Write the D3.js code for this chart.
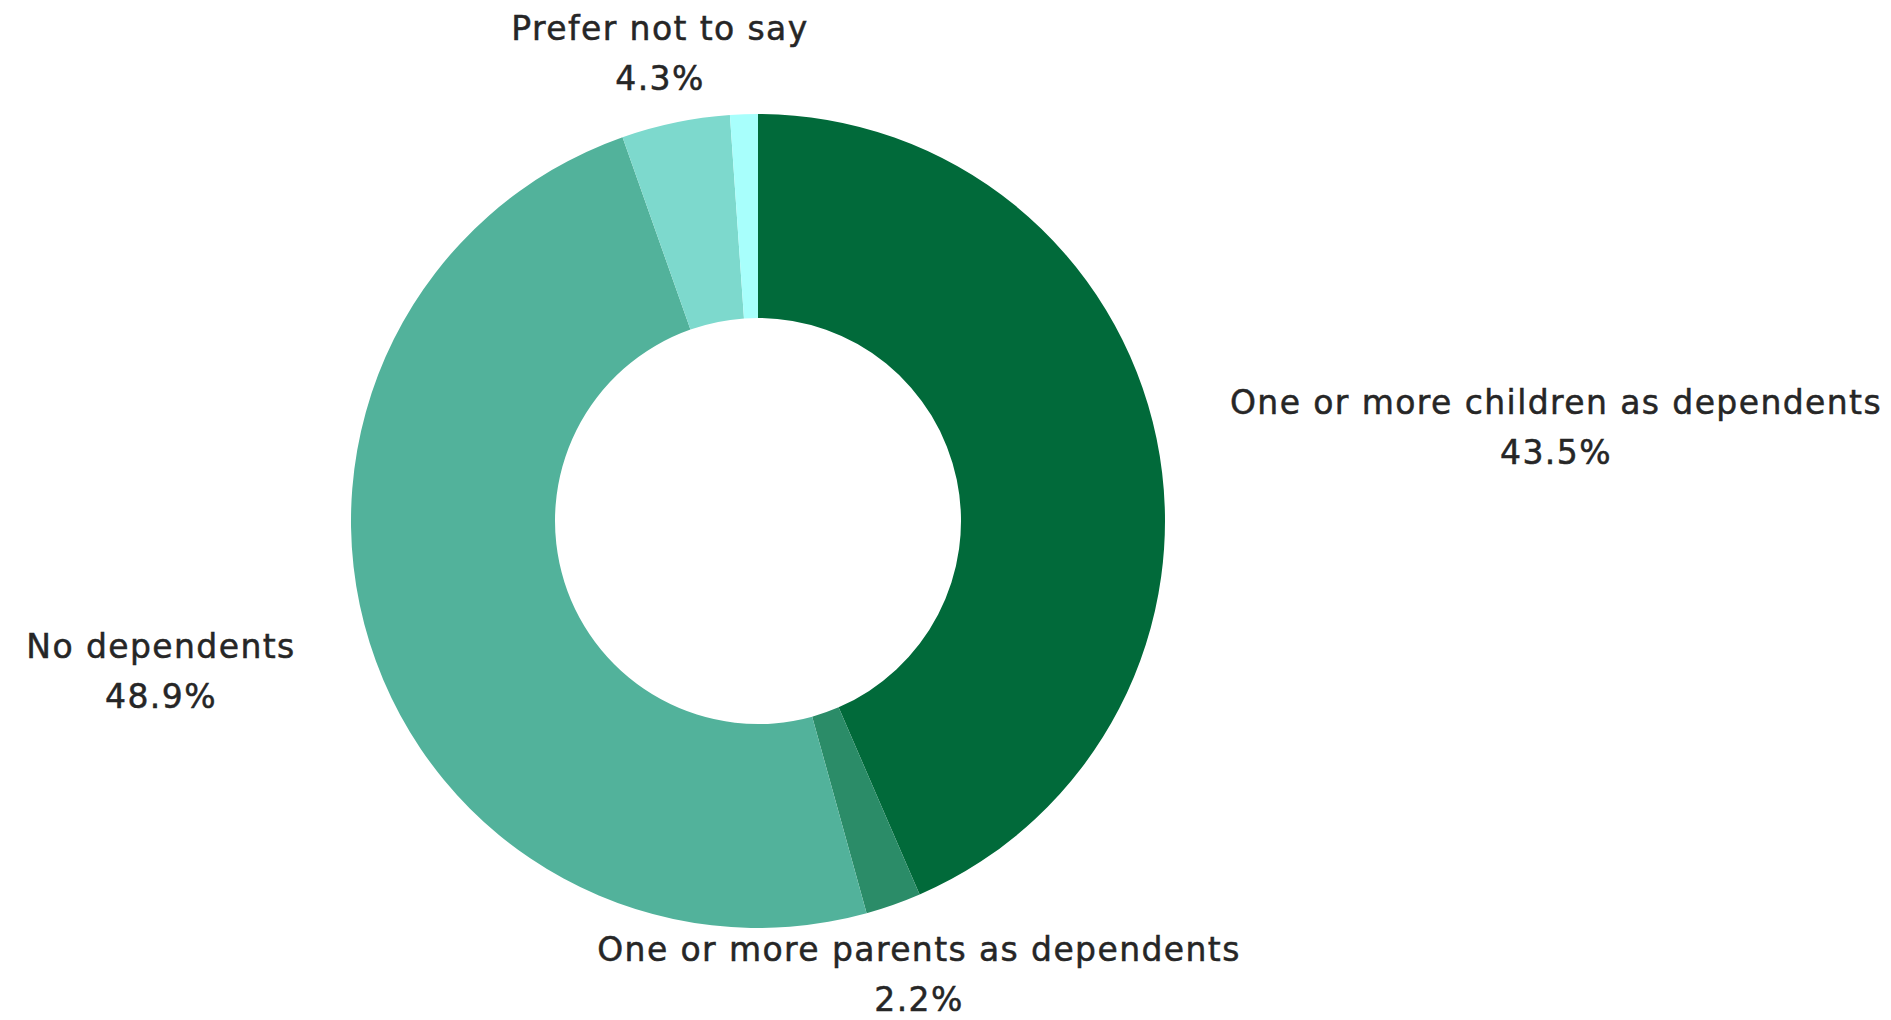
<!DOCTYPE html>
<html>
<head>
<meta charset="utf-8">
<script src="https://cdn.jsdelivr.net/npm/d3@7"></script>
<style>
  body { margin: 0; background: #fff; }
  text { font-family: "DejaVu Sans", "Open Sans", sans-serif; fill: #262626; stroke: #262626; stroke-width: 0.5px; letter-spacing: 1.4px; }
</style>
</head>
<body>
<script>
const categories = [
  "One or more children as dependents",
  "One or more parents as dependents",
  "No dependents",
  "Prefer not to say",
  "Other"
]
const values = [43.5, 2.2, 48.9, 4.3, 1.1]
const showLabel = [true, true, true, true, false]
const colors = ["#016a3a", "#2b8c68", "#52b29b", "#7dd9cd", "#a8fffc"]

const width = 1891
const height = 1020
const cx = 758, cy = 521
const outerR = 407, innerR = 203

// where each label block sits, relative to the centre
const labelOffset = {
  "One or more children as dependents": [798, -107],
  "One or more parents as dependents": [161, 440],
  "No dependents": [-597, 137],
  "Prefer not to say": [-98, -481]
}
const lineGap = 50

const data = categories.map((c, i) => ({ name: c, value: values[i], color: colors[i], label: showLabel[i] }))

const svg = d3.select('body').append('svg')
  .attr('width', width)
  .attr('height', height)

const g = svg.append('g')
  .attr('transform', `translate(${cx}, ${cy})`)

const pie = d3.pie()
  .value(d => d.value)
  .sort(null)

const arc = d3.arc()
  .innerRadius(innerR)
  .outerRadius(outerR)

g.selectAll('path')
  .data(pie(data))
  .join('path')
  .attr('d', arc)
  .attr('fill', d => d.data.color)

const labels = g.selectAll('.lbl')
  .data(data.filter(d => d.label))
  .join('g')
  .attr('class', 'lbl')
  .attr('transform', d => `translate(${labelOffset[d.name][0]}, ${labelOffset[d.name][1]})`)

labels.append('text')
  .attr('text-anchor', 'middle')
  .attr('font-size', 33)
  .text(d => d.name)

labels.append('text')
  .attr('text-anchor', 'middle')
  .attr('font-size', 33)
  .attr('y', lineGap)
  .text(d => d.value.toFixed(1) + '%')
</script>
</body>
</html>
